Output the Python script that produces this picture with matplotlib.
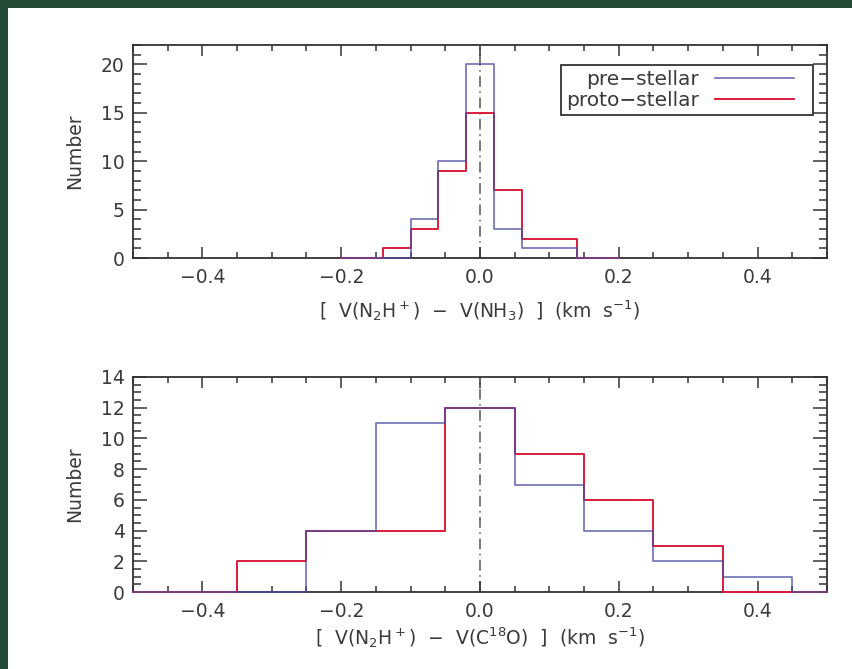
import matplotlib
matplotlib.use('Agg')
import matplotlib.pyplot as plt
from matplotlib.patches import Rectangle
from matplotlib.lines import Line2D
from matplotlib.legend_handler import HandlerLine2D
from matplotlib.ticker import MultipleLocator

# top panel: V(N2H+) - V(NH3), bin centres 0.04 km/s apart
nh3_centres = [-0.20, -0.16, -0.12, -0.08, -0.04, 0.00, 0.04, 0.08, 0.12, 0.16, 0.20]
nh3_pre = [0, 0, 0, 4, 10, 20, 3, 1, 1, 0, 0]
nh3_proto = [0, 0, 1, 3, 9, 15, 7, 2, 2, 0, 0]

# bottom panel: V(N2H+) - V(C18O), bin centres 0.1 km/s apart
c18o_centres = [-0.5, -0.4, -0.3, -0.2, -0.1, 0.0, 0.1, 0.2, 0.3, 0.4, 0.5]
c18o_pre = [0, 0, 0, 4, 11, 12, 7, 4, 2, 1, 0]
c18o_proto = [0, 0, 2, 4, 4, 12, 9, 6, 3, 0, 0]

xticks = [-0.4, -0.2, 0.0, 0.2, 0.4]

BLUE = '#4a4aa2'
RED = '#dc1c3c'
TXT = '#3a3a3a'
FS = 13.5

fig = plt.figure(figsize=(8.53, 6.69), dpi=100, facecolor='#254a35')
fig.patches.append(Rectangle((8 / 853, 0), 1, 1 - 8 / 669, transform=fig.transFigure,
                             facecolor='white', edgecolor='none', zorder=-10))

W, H = 853, 669


def make_axes(x0, x1, y0, y1):
    return fig.add_axes([x0 / W, 1 - y1 / H, (x1 - x0) / W, (y1 - y0) / H])


def style(ax, ymaj, ymin):
    ax.set_xlim(-0.5, 0.5)
    ax.set_xticks(xticks)
    ax.set_xticklabels(['\u22120.4', '\u22120.2', '0.0', '0.2', '0.4'])
    ax.xaxis.set_minor_locator(MultipleLocator(0.05))
    ax.yaxis.set_major_locator(MultipleLocator(ymaj))
    ax.yaxis.set_minor_locator(MultipleLocator(ymin))
    ax.tick_params(axis='both', which='both', direction='in', top=True, right=True,
                   colors='#333333', labelcolor=TXT, labelsize=FS, width=1.1)
    ax.tick_params(axis='x', which='major', length=8, pad=7)
    ax.tick_params(axis='x', which='minor', length=4.5)
    ax.tick_params(axis='y', which='major', length=10, pad=6)
    ax.tick_params(axis='y', which='minor', length=5.5)
    for s in ax.spines.values():
        s.set_color('#333333')
        s.set_linewidth(1.3)
    ax.axvline(0, color='#555555', lw=1.1, ls=(0, (7, 3, 1, 3)), zorder=1)
    ax.set_ylabel('Number', fontsize=FS, color=TXT, labelpad=12)


def hist(ax, centres, proto, pre, labels=(None, None)):
    ax.step(centres, proto, where='mid', color=RED, lw=1.4, label=labels[0],
            zorder=3, clip_on=False)
    ax.step(centres, pre, where='mid', color=BLUE, lw=1.2, alpha=0.8, label=labels[1],
            zorder=4, clip_on=False)


# top panel
ax1 = make_axes(133, 827, 45, 258)
hist(ax1, nh3_centres, nh3_proto, nh3_pre, ('proto\u2212stellar', 'pre\u2212stellar'))
ax1.set_ylim(0, 22)
style(ax1, 5, 1)
ax1.set_xlabel(r'[  V(N$_2$H$^+$)  $-$  V(NH$_3$)  ]  (km  s$^{-1}$)', fontsize=FS,
               color=TXT, labelpad=8)
h, l = ax1.get_legend_handles_labels()
leg = ax1.legend(h[::-1], l[::-1], loc='upper right', bbox_to_anchor=(0.98, 0.906),
                 markerfirst=False, fancybox=False, fontsize=14.5, borderaxespad=0,
                 borderpad=0.25, labelspacing=0.08, handlelength=5.3, handletextpad=0.1,
                 framealpha=1, edgecolor='#333333', labelcolor=TXT,
                 handler_map={Line2D: HandlerLine2D(numpoints=2, marker_pad=0.7)})
leg.get_frame().set_linewidth(1.3)

# bottom panel
ax2 = make_axes(133, 827, 377, 592)
hist(ax2, c18o_centres, c18o_proto, c18o_pre)
ax2.set_ylim(0, 14)
style(ax2, 2, 0.5)
ax2.set_xlabel(r'[  V(N$_2$H$^+$)  $-$  V(C$^{18}$O)  ]  (km  s$^{-1}$)', fontsize=FS,
               color=TXT, labelpad=3)

fig.savefig('out.png', dpi=100, facecolor=fig.get_facecolor())
